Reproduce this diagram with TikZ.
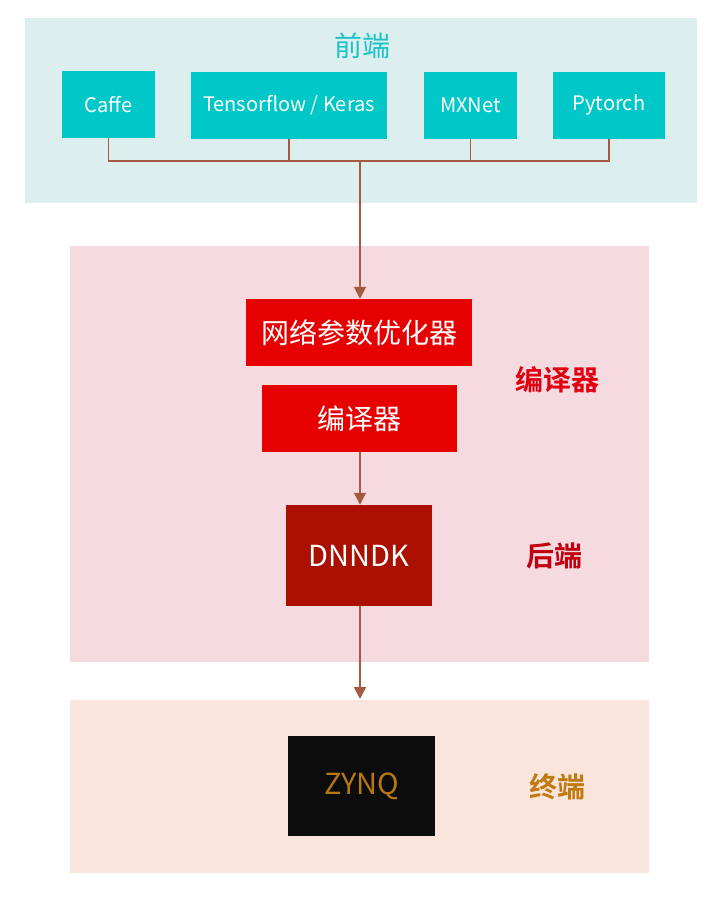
\documentclass[tikz,border=0pt]{standalone}
\usepackage{fontspec}
\setmainfont{Noto Sans CJK SC}
\newfontfamily\cjkbold{Noto Sans CJK SC Bold}
\usetikzlibrary{arrows.meta}
\definecolor{panelA}{HTML}{DCEFEE}
\definecolor{panelB}{HTML}{F5DAE0}
\definecolor{panelC}{HTML}{FAE5DD}
\definecolor{cyanbox}{HTML}{00C8C8}
\definecolor{cyantxt}{HTML}{1BC2C6}
\definecolor{redbox}{HTML}{E60000}
\definecolor{darkred}{HTML}{AA0F00}
\definecolor{blackbox}{HTML}{0C0C0C}
\definecolor{gold}{HTML}{B8780F}
\definecolor{goldlbl}{HTML}{C07A10}
\definecolor{redlbl}{HTML}{E00010}
\definecolor{dredlbl}{HTML}{C00010}
\definecolor{wire}{HTML}{A65A42}
\tikzset{
  fw/.style={fill=cyanbox, text=white, minimum height=67pt, inner sep=0pt, font=\fontsize{20}{22}\selectfont},
  redb/.style={fill=redbox, text=white, minimum height=67pt, inner sep=0pt, font=\fontsize{28}{30}\selectfont},
  bigtxt/.style={inner sep=0pt, font=\fontsize{29}{31}\selectfont},
  wireline/.style={draw=wire, line width=1.8pt},
  arr/.style={wireline, -{Triangle[width=12pt,length=12pt]}},
  lbl/.style={font=\cjkbold\fontsize{28}{30}\selectfont},
}
\begin{document}
\begin{tikzpicture}[x=1pt,y=-1pt]
\useasboundingbox (0,0) rectangle (713,902);
\fill[white] (0,0) rectangle (713,902);
% panels
\fill[panelA] (25,18) rectangle (697,203);
\fill[panelB] (70,246) rectangle (649,662);
\fill[panelC] (70,700) rectangle (649,873);
% title
\node[text=cyantxt, font=\fontsize{28}{30}\selectfont] (front) at (362,46) {前端};
% frameworks
\node[fw, minimum width=93pt] (caffe) at (108.5,104.5) {Caffe};
\node[fw, minimum width=196pt] (tf) at (289,105) {Tensorflow / Keras};
\node[fw, minimum width=93pt] (mx) at (470.5,105) {MXNet};
\node[fw, minimum width=112pt] (pt) at (609,105) {Pytorch};
\coordinate (bus) at (360,161);
\draw[wireline] (caffe.south) |- (bus);
\draw[wireline] (pt.south) |- (bus);
\draw[wireline] (tf.south) -- (tf.south |- bus);
\draw[wireline] (mx.south) -- (mx.south |- bus);
% compiler
\node[redb, minimum width=226pt] (opt) at (359,332.5) {网络参数优化器};
\node[redb, minimum width=195pt] (comp) at (359.5,418.5) {编译器};
\draw[arr] (bus) -- (opt.north -| bus);
\node[lbl, text=redlbl] (lcomp) at (557,380) {编译器};
% backend
\node[bigtxt, fill=darkred, text=white, minimum width=146pt, minimum height=101pt] (dnndk) at (359,555.5) {DNNDK};
\draw[arr] (comp.south -| bus) -- (dnndk.north -| bus);
\node[lbl, text=dredlbl] (lback) at (554,556) {后端};
% terminal
\coordinate (ctop) at (360,699);
\draw[arr] (dnndk.south -| bus) -- (ctop);
\node[bigtxt, fill=blackbox, text=gold, minimum width=147pt, minimum height=100pt] (zynq) at (361.5,786) {ZYNQ};
\node[lbl, text=goldlbl] (lterm) at (557,787) {终端};
\end{tikzpicture}
\end{document}
